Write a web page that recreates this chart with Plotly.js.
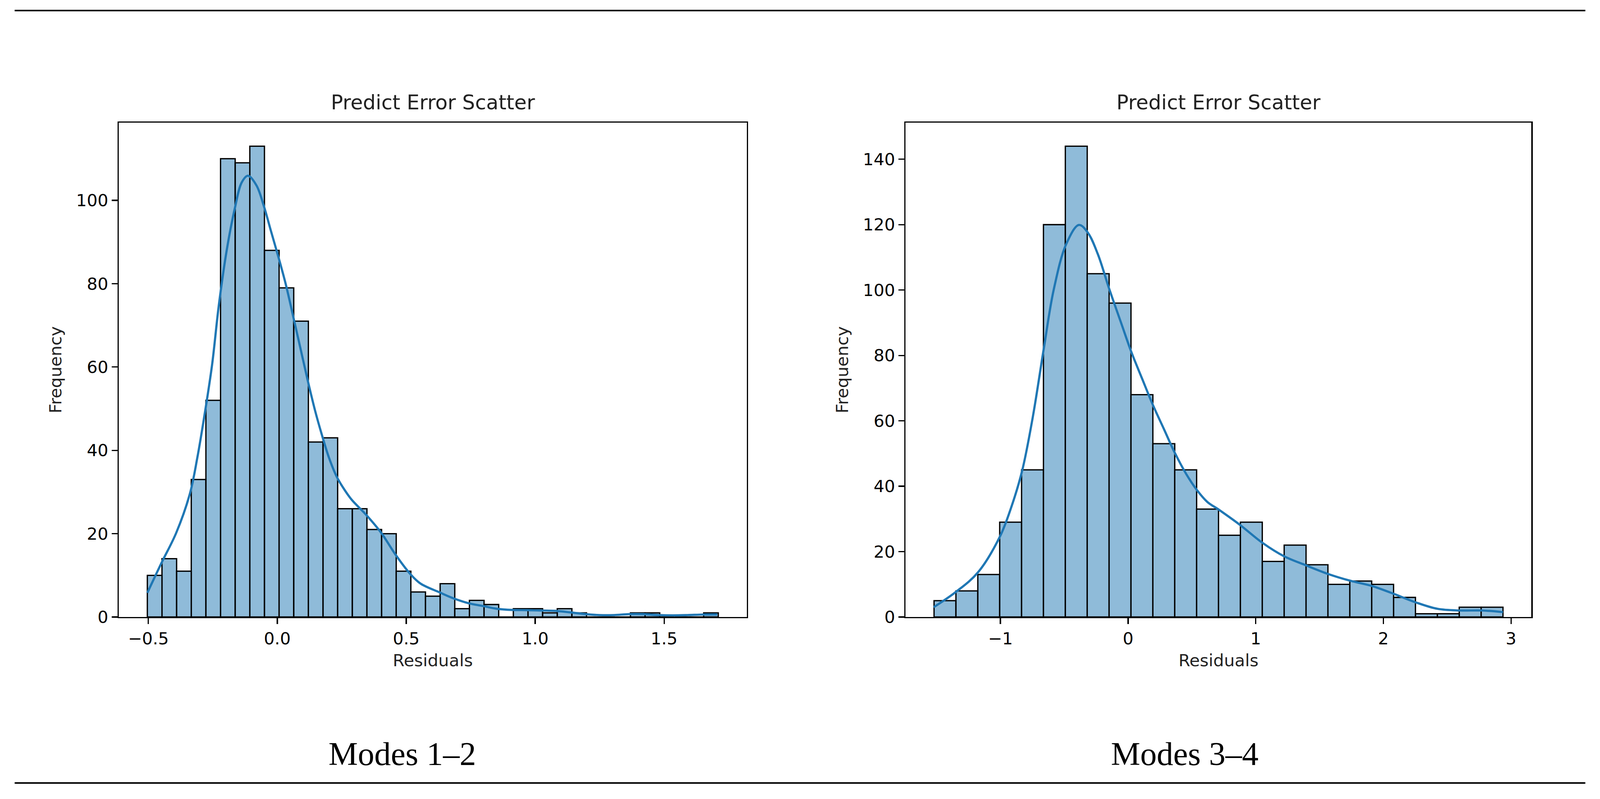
<!DOCTYPE html>
<html>
<head>
<meta charset="utf-8">
<script src="https://cdn.plot.ly/plotly-3.0.1.min.js"></script>
<style>html,body{margin:0;padding:0;background:#fff;overflow:hidden;}#chart{position:absolute;left:0;top:0;}</style>
</head>
<body>
<div id="chart"></div>
<script>
// ---------- data ----------
// Modes 1–2 histogram: 39 bins between min and max residual
const countsA = [10,14,11,33,52,110,109,113,88,79,71,42,43,26,26,21,20,11,6,5,8,2,4,3,0,2,2,1,2,1,0,0,0,1,1,0,0,0,1];
const minA = -0.504, maxA = 1.71;
const kdeXA = [-0.504,-0.449,-0.392,-0.339,-0.310,-0.282,-0.253,-0.227,-0.196,-0.165,-0.138,-0.114,-0.081,-0.053,-0.024,0.007,0.033,0.061,0.090,0.119,0.147,0.172,0.200,0.231,0.262,0.289,0.345,0.403,0.458,0.516,0.556,0.630,0.682,0.742,0.797,0.854,0.912,0.970,1.025,1.080,1.139,1.196,1.249,1.306,1.363,1.420,1.478,1.534,1.591,1.649,1.706];
const kdeYA = [5.8,13.0,20.2,29.6,38.3,48.6,60.5,74.7,88.1,98.0,104.3,105.9,103.6,98.8,92.5,85.8,79.8,72.3,64.4,56.5,49.4,43.9,38.3,33.6,30.4,28.1,24.5,20.2,15.0,10.3,8.0,5.9,4.5,3.3,2.65,1.96,1.7,1.65,1.56,1.46,1.09,0.69,0.47,0.47,0.69,0.69,0.47,0.4,0.47,0.59,0.62];

// Modes 3–4 histogram: 26 bins
const countsB = [5,8,13,29,45,120,144,105,96,68,53,45,33,25,29,17,22,16,10,11,10,6,1,1,3,3];
const minB = -1.520, maxB = 2.937;
const kdeXB = [-1.523,-1.348,-1.177,-1.004,-0.914,-0.830,-0.748,-0.661,-0.583,-0.484,-0.385,-0.316,-0.237,-0.149,-0.055,0.027,0.110,0.195,0.283,0.365,0.456,0.542,0.621,0.712,0.876,1.056,1.221,1.394,1.572,1.740,1.910,2.087,2.252,2.425,2.598,2.772,2.937];
const kdeYB = [3.0,7.7,13.6,24.6,33.7,44.7,60.8,81.9,100,114.1,119.9,117.6,111,100.5,90,80.9,72.9,64.8,57.3,50.3,43.7,38.7,35.2,32.8,28.2,22.6,18.6,15.8,13.1,11.1,9.5,7.0,4.5,2.5,2.0,2.0,1.5];

const xTicksA = [-0.5, 0.0, 0.5, 1.0, 1.5];
const xTickTextA = ['\u22120.5','0.0','0.5','1.0','1.5'];
const yTicksA = [0,20,40,60,80,100];
const xTicksB = [-1,0,1,2,3];
const xTickTextB = ['\u22121','0','1','2','3'];
const yTicksB = [0,20,40,60,80,100,120,140];

const chartTitle = 'Predict Error Scatter';
const xLabel = 'Residuals';
const yLabel = 'Frequency';
const captionA = 'Modes 1\u20132';
const captionB = 'Modes 3\u20134';

// ---------- build ----------
const RW = 4364, RH = 2046;               // reference frame
const W = window.innerWidth || RW, H = window.innerHeight || RH;
const s = Math.min(W / RW, H / RH);        // scale for fonts and strokes
document.getElementById('chart').style.width = W + 'px';
document.getElementById('chart').style.height = H + 'px';

function bins(counts, mn, mx){
  const w = (mx - mn) / counts.length;
  return {x: counts.map((_, i) => mn + (i + 0.5) * w), w: counts.map(() => w)};
}
const bA = bins(countsA, minA, maxA);
const bB = bins(countsB, minB, maxB);
const blue = '#1f77b4';
const barStyle = {color: 'rgba(31,119,180,0.5)', line: {color: '#000', width: 3.5 * s}};

const traces = [
  {type:'bar', x:bA.x, y:countsA, width:bA.w, marker:barStyle, xaxis:'x', yaxis:'y'},
  {type:'scatter', mode:'lines', x:kdeXA, y:kdeYA, line:{color:blue, width:6 * s, shape:'spline', smoothing:1}, xaxis:'x', yaxis:'y'},
  {type:'bar', x:bB.x, y:countsB, width:bB.w, marker:barStyle, xaxis:'x2', yaxis:'y2'},
  {type:'scatter', mode:'lines', x:kdeXB, y:kdeYB, line:{color:blue, width:6 * s, shape:'spline', smoothing:1}, xaxis:'x2', yaxis:'y2'}
];

const tickFont = {family:'DejaVu Sans', size:46 * s, color:'#000'};
const labFont = {family:'DejaVu Sans', size:46 * s, color:'#222'};
function axisBase(){
  return {showline:true, mirror:true, linecolor:'#000', linewidth:3.5 * s, ticks:'outside', ticklen:16 * s, tickwidth:3.5 * s, tickcolor:'#000',
          showgrid:false, zeroline:false, tickfont:tickFont, automargin:false, fixedrange:true};
}
function padRange(mn, mx){ const d = mx - mn; return [mn - 0.05*d, mx + 0.05*d]; }
function yMax(c){ return Math.max(...c) * 1.05; }

const pyTop = 1 - 314/RH, pyBot = 1 - 1580/RH;
const layout = {
  width: W, height: H, margin:{l:0,r:0,t:0,b:0}, paper_bgcolor:'#fff', plot_bgcolor:'#fff',
  showlegend:false, bargap:0,
  xaxis: Object.assign(axisBase(), {domain:[324/RW, 2037/RW], range:padRange(minA,maxA), tickvals:xTicksA, ticktext:xTickTextA, anchor:'y',
          title:{text:xLabel, font:labFont, standoff:18 * s}}),
  yaxis: Object.assign(axisBase(), {domain:[pyBot, pyTop], range:[0, yMax(countsA)], tickvals:yTicksA, anchor:'x',
          title:{text:yLabel, font:labFont, standoff:26 * s}}),
  xaxis2: Object.assign(axisBase(), {domain:[2470/RW, 4177/RW], range:padRange(minB,maxB), tickvals:xTicksB, ticktext:xTickTextB, anchor:'y2',
          title:{text:xLabel, font:labFont, standoff:18 * s}}),
  yaxis2: Object.assign(axisBase(), {domain:[pyBot, pyTop], range:[0, yMax(countsB)], tickvals:yTicksB, anchor:'x2',
          title:{text:yLabel, font:labFont, standoff:26 * s}}),
  annotations: [
    {text:chartTitle, xref:'paper', yref:'paper', x:(324+2037)/2/RW, y:1-262/RH, xanchor:'center', yanchor:'middle', showarrow:false, font:{family:'DejaVu Sans', size:55 * s, color:'#222'}},
    {text:chartTitle, xref:'paper', yref:'paper', x:(2470+4177)/2/RW, y:1-262/RH, xanchor:'center', yanchor:'middle', showarrow:false, font:{family:'DejaVu Sans', size:55 * s, color:'#222'}},
    {text:captionA, xref:'paper', yref:'paper', x:1097/RW, y:1-1930/RH, xanchor:'center', yanchor:'middle', showarrow:false, font:{family:'Liberation Serif', size:90 * s, color:'#000'}},
    {text:captionB, xref:'paper', yref:'paper', x:3231/RW, y:1-1930/RH, xanchor:'center', yanchor:'middle', showarrow:false, font:{family:'Liberation Serif', size:90 * s, color:'#000'}}
  ],
  shapes: [
    {type:'line', xref:'paper', yref:'paper', x0:40/RW, x1:4324/RW, y0:1-27/RH, y1:1-27/RH, line:{color:'#000', width:4 * s}},
    {type:'line', xref:'paper', yref:'paper', x0:40/RW, x1:4324/RW, y0:1-2005/RH, y1:1-2005/RH, line:{color:'#000', width:4 * s}}
  ]
};

Plotly.newPlot('chart', traces, layout, {displayModeBar:false, staticPlot:true});
</script>
</body>
</html>
